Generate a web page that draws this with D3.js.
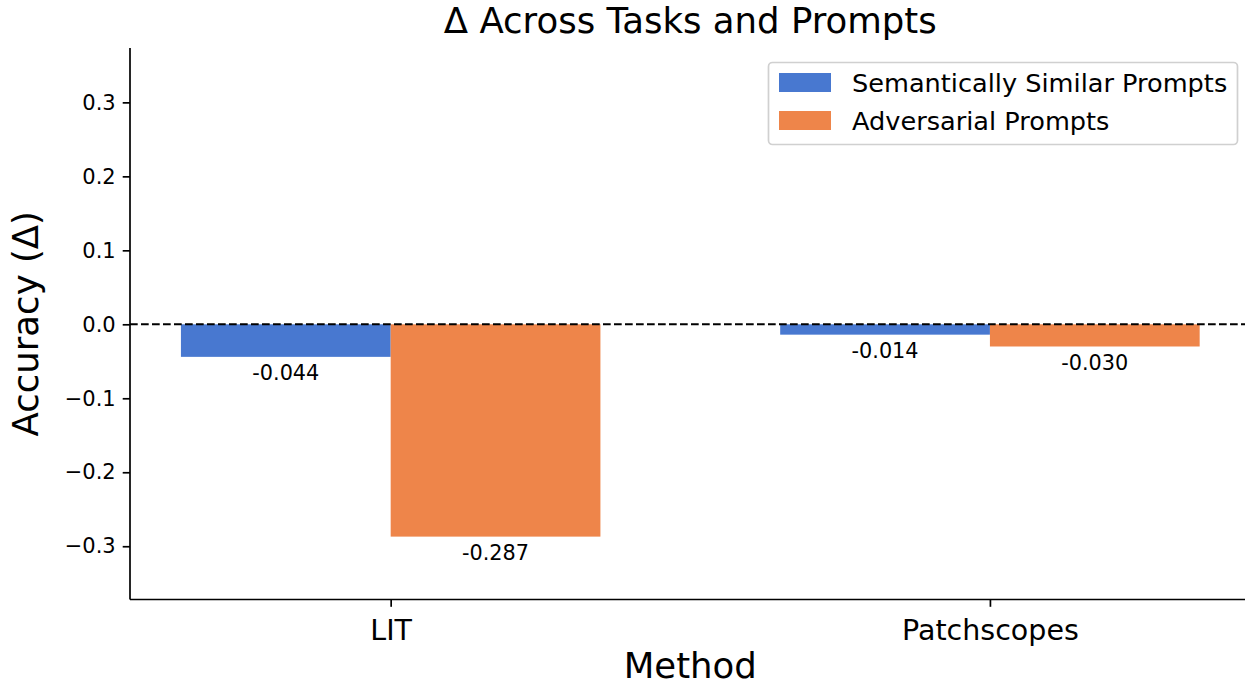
<!DOCTYPE html>
<html>
<head>
<meta charset="utf-8">
<script src="https://cdn.jsdelivr.net/npm/d3@7"></script>
<style>
  body { margin: 0; background: #fff; }
  svg { display: block; font-family: "DejaVu Sans", sans-serif; }
</style>
</head>
<body>
<div class="container"></div>
<script>
var width = 1245;
var height = 687;
// axes box (right edge runs a bit past the picture, as in the original)
var padding = { top: 48, bottom: 87.5, left: 130, right: -5.6 };

var methods = ["LIT", "Patchscopes"];
var seriesNames = ["Semantically Similar Prompts", "Adversarial Prompts"];
var similarValues = [-0.044, -0.014];
var adversarialValues = [-0.287, -0.030];
var yTicks = [-0.3, -0.2, -0.1, 0.0, 0.1, 0.2, 0.3];

var colors = ["#4878d0", "#ee854a"];
var barWidth = 0.35;

var svg = d3.select(".container").append("svg")
  .attr("width", width)
  .attr("height", height);

var x0 = padding.left, x1 = width - padding.right;
var y0 = padding.top, y1 = height - padding.bottom;

// matplotlib-like 5% margin around the bars
var xScale = d3.scaleLinear().domain([-0.435, 1.435]).range([x0, x1]);
var yScale = d3.scaleLinear().domain([-0.372, 0.3735]).range([y1, y0]);

var allSeries = [similarValues, adversarialValues];

// bars
allSeries.forEach(function (values, s) {
  var offset = s === 0 ? -barWidth : 0;
  svg.append("g").selectAll("rect")
    .data(values)
    .enter().append("rect")
    .attr("x", (d, i) => xScale(i + offset))
    .attr("width", xScale(barWidth) - xScale(0))
    .attr("y", d => yScale(Math.max(0, d)))
    .attr("height", d => Math.abs(yScale(d) - yScale(0)))
    .attr("fill", colors[s]);

  svg.append("g").selectAll("text")
    .data(values)
    .enter().append("text")
    .attr("x", (d, i) => xScale(i + offset + barWidth / 2))
    .attr("y", d => yScale(d) + 23.5)
    .style("text-anchor", "middle")
    .style("font-size", "20.8px")
    .text(d => d.toFixed(3));
});

// zero line
svg.append("line")
  .attr("x1", x0)
  .attr("x2", x1)
  .attr("y1", yScale(0))
  .attr("y2", yScale(0))
  .style("stroke", "#000")
  .style("stroke-width", 2)
  .style("stroke-dasharray", "7.7,3.3");

// axes
var axisY = d3.axisLeft(yScale)
  .tickValues(yTicks)
  .tickSize(7.3)
  .tickPadding(7)
  .tickFormat(d => d3.format(".1f")(d).replace("-", "\u2212"));

var gy = svg.append("g")
  .attr("transform", "translate(" + x0 + ",0)")
  .call(axisY);
gy.select(".domain").attr("d", "M0," + y0 + "V" + y1);

var axisX = d3.axisBottom(xScale)
  .tickValues([0, 1])
  .tickSize(7.3)
  .tickPadding(7)
  .tickFormat((d, i) => methods[i]);

var gx = svg.append("g")
  .attr("transform", "translate(0," + y1 + ")")
  .call(axisX);
gx.select(".domain").attr("d", "M" + x0 + ",0H" + x1);

[gx, gy].forEach(function (g) {
  g.selectAll(".domain, .tick line")
    .style("stroke", "#000")
    .style("stroke-width", 1.7);
  g.selectAll(".tick text")
    .style("fill", "#000")
    .style("font-family", "DejaVu Sans, sans-serif");
});
gy.selectAll(".tick text").style("font-size", "21px");
gx.selectAll(".tick text")
  .style("font-size", "28.5px")
  .attr("dy", null)
  .attr("y", 639.5 - y1);

// titles
svg.append("text")
  .attr("x", (x0 + x1) / 2)
  .attr("y", 33)
  .style("text-anchor", "middle")
  .style("font-size", "35.5px")
  .text("\u0394 Across Tasks and Prompts");

svg.append("text")
  .attr("x", (x0 + x1) / 2)
  .attr("y", 678)
  .style("text-anchor", "middle")
  .style("font-size", "35.5px")
  .text("Method");

svg.append("text")
  .attr("transform", "translate(38," + (y0 + y1) / 2 + ") rotate(-90)")
  .style("text-anchor", "middle")
  .style("font-size", "35.5px")
  .text("Accuracy (\u0394)");

// legend
var legend = svg.append("g");
legend.append("rect")
  .attr("x", 768.5)
  .attr("y", 62.5)
  .attr("width", 469)
  .attr("height", 82)
  .attr("rx", 4)
  .style("fill", "rgba(255,255,255,0.8)")
  .style("stroke", "#d0d0d0")
  .style("stroke-width", 1.7);

seriesNames.forEach(function (name, i) {
  var cy = 82.5 + i * 38;
  legend.append("rect")
    .attr("x", 779)
    .attr("y", cy - 9.5)
    .attr("width", 52)
    .attr("height", 19)
    .attr("fill", colors[i]);
  legend.append("text")
    .attr("x", 852)
    .attr("y", cy + 9)
    .style("font-size", "25.6px")
    .text(name);
});
</script>
</body>
</html>
